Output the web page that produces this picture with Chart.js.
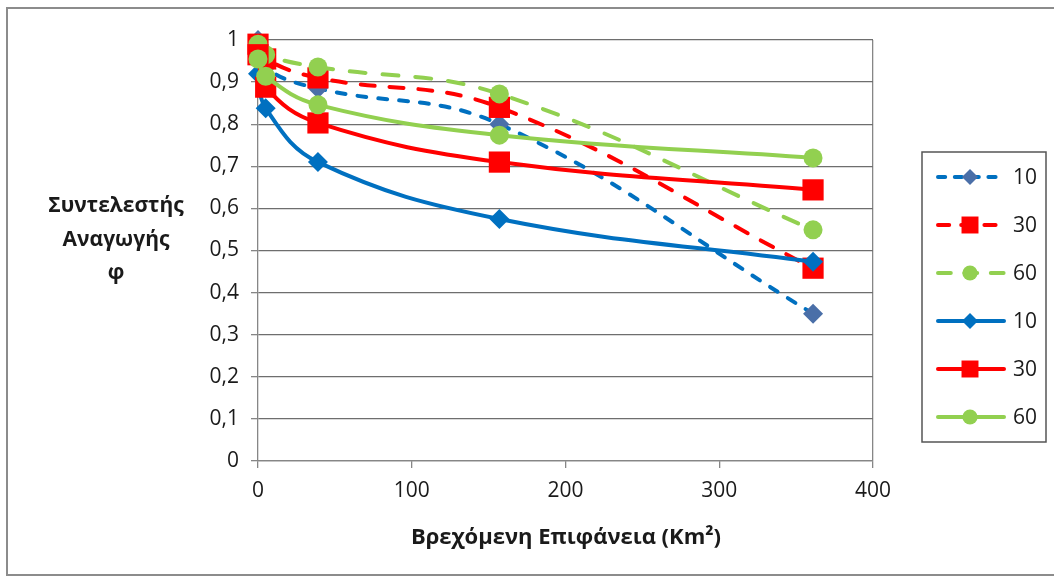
<!DOCTYPE html>
<html>
<head>
<meta charset="utf-8">
<script src="https://cdn.jsdelivr.net/npm/chart.js@4"></script>
<style>
  html, body { margin: 0; padding: 0; background: #fff; }
  #wrap { width: 1054px; height: 581px; }
</style>
</head>
<body>
<div id="wrap"><canvas id="myChart" width="1054" height="581"></canvas></div>
<script>
const areas = [0, 5, 39, 157, 361]
const phi10Dash = [1.0, 0.935, 0.885, 0.8, 0.35]
const phi30Dash = [0.99, 0.955, 0.91, 0.84, 0.458]
const phi60Dash = [0.99, 0.965, 0.936, 0.872, 0.549]
const phi10 = [0.92, 0.838, 0.71, 0.575, 0.473]
const phi30 = [0.965, 0.888, 0.803, 0.71, 0.644]
const phi60 = [0.955, 0.914, 0.846, 0.774, 0.72]
const seriesLabels = ['10', '30', '60', '10', '30', '60']
const yTicks = [0, 0.1, 0.2, 0.3, 0.4, 0.5, 0.6, 0.7, 0.8, 0.9, 1]
const xTicks = [0, 100, 200, 300, 400]

const blue = '#0070C0'
const red = '#FF0000'
const green = '#92D050'
const font = '"Open Sans", "Noto Sans", sans-serif'

const toPoints = (values) => values.map((v, i) => ({ x: areas[i], y: v }))

function series(label, values, color, marker, dash, order, markerColor) {
  return {
    label: label,
    data: toPoints(values),
    borderColor: color,
    backgroundColor: markerColor || color,
    pointBackgroundColor: markerColor || color,
    pointBorderColor: markerColor || color,
    pointStyle: marker.style,
    pointRadius: marker.r,
    pointBorderWidth: 0,
    borderWidth: 4,
    borderDash: dash,
    borderCapStyle: dash.length ? 'round' : 'butt',
    showLine: true,
    tension: 0.4,
    clip: false,
    order: order,
  }
}

const diamond = { style: 'rectRot', r: 10 }
const square = { style: 'rect', r: 15 }
const circle = { style: 'circle', r: 9.5 }

const datasets = [
  series(seriesLabels[0], phi10Dash, blue, diamond, [9, 12], 6, '#4A6FA8'),
  series(seriesLabels[1], phi30Dash, red, square, [14, 15], 5),
  series(seriesLabels[2], phi60Dash, green, circle, [16, 17], 4),
  series(seriesLabels[3], phi10, blue, diamond, [], 3),
  series(seriesLabels[4], phi30, red, square, [], 2),
  series(seriesLabels[5], phi60, green, circle, [], 1),
]

const frameAndTitles = {
  id: 'frameAndTitles',
  beforeDraw(chart) {
    const { ctx } = chart
    ctx.save()
    ctx.strokeStyle = '#8c8c8c'
    ctx.lineWidth = 2
    ctx.strokeRect(7, 8, 1070, 567)
    ctx.restore()
  },
  afterDraw(chart) {
    const { ctx } = chart
    ctx.save()
    ctx.fillStyle = '#1a1a1a'
    ctx.font = `bold 21px ${font}`
    ctx.textAlign = 'center'
    ctx.textBaseline = 'middle'
    ctx.fillText('Συντελεστής', 116, 206)
    ctx.fillText('Αναγωγής', 116, 240)
    ctx.fillText('φ', 116, 273)
    ctx.font = `bold 22px ${font}`
    ctx.fillText('Βρεχόμενη Επιφάνεια (Km²)', 566, 538)

    // legend
    ctx.strokeStyle = '#555'
    ctx.lineWidth = 1.5
    ctx.strokeRect(922, 152, 124, 290)
    ctx.font = `21px ${font}`
    ctx.textAlign = 'left'
    datasets.forEach((ds, i) => {
      const y = 177 + i * 48
      ctx.save()
      ctx.strokeStyle = ds.borderColor
      ctx.lineWidth = 4
      ctx.lineCap = 'round'
      ctx.setLineDash(ds.borderDash.length ? [ds.borderDash[0] * 0.8, ds.borderDash[1] * 0.8] : [])
      ctx.beginPath()
      ctx.moveTo(938, y)
      ctx.lineTo(1004, y)
      ctx.stroke()
      ctx.restore()
      ctx.fillStyle = ds.pointBackgroundColor
      Chart.helpers.drawPoint(ctx, { pointStyle: ds.pointStyle, radius: ds.pointRadius * 0.8, borderWidth: 0 }, 970, y)
      ctx.fillStyle = '#1a1a1a'
      ctx.fillText(ds.label, 1013, y + 1)
    })
    ctx.restore()
  },
}

const config = {
  type: 'scatter',
  data: { datasets: datasets },
  options: {
    responsive: false,
    animation: false,
    layout: { padding: { top: 40, right: 181, left: 0, bottom: 0 } },
    plugins: {
      legend: { display: false },
      tooltip: { enabled: false },
    },
    scales: {
      x: {
        type: 'linear',
        min: 0,
        max: 400,
        afterBuildTicks: (scale) => {
          scale.ticks = xTicks.map((v) => ({ value: v }))
        },
        afterFit: (scale) => {
          scale.height = 120
        },
        border: { color: '#868686', width: 1.3 },
        grid: {
          color: (c) => (c.tick && c.tick.value === 400 ? '#868686' : 'rgba(0,0,0,0)'),
          tickColor: '#868686',
          tickLength: 7,
          lineWidth: 1.3,
        },
        ticks: {
          color: '#1a1a1a',
          font: { family: font, size: 21 },
          padding: 10,
        },
      },
      y: {
        type: 'linear',
        min: 0,
        max: 1,
        afterBuildTicks: (scale) => {
          scale.ticks = yTicks.map((v) => ({ value: v }))
        },
        afterFit: (scale) => {
          scale.width = 258
        },
        border: { color: '#868686', width: 1.3 },
        grid: {
          color: '#6e6e6e',
          tickColor: '#868686',
          tickLength: 7,
          lineWidth: 1.3,
        },
        ticks: {
          color: '#1a1a1a',
          font: { family: font, size: 21 },
          padding: 12,
          callback: (v) => String(Math.round(v * 10) / 10).replace('.', ','),
        },
      },
    },
  },
  plugins: [frameAndTitles],
}

const myChart = new Chart(document.getElementById('myChart'), config)
</script>
</body>
</html>
